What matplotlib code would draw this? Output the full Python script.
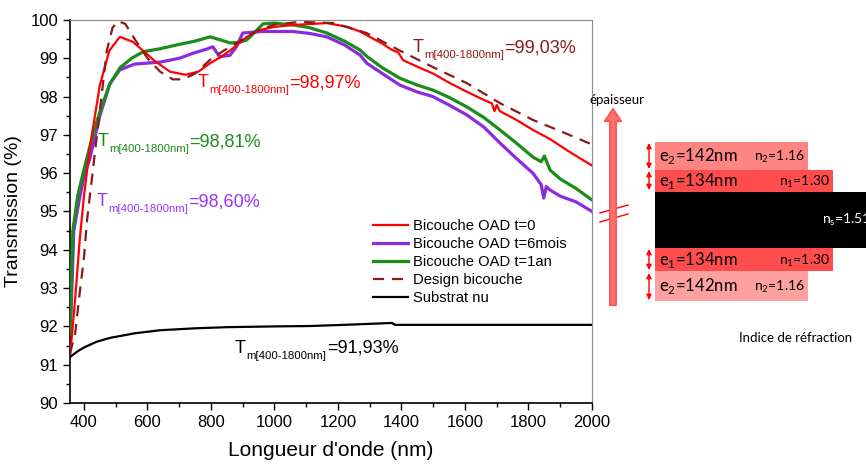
import numpy as np
import matplotlib
matplotlib.use("Agg")
import matplotlib.pyplot as plt

plt.rcParams['font.family'] = ['Liberation Sans', 'DejaVu Sans']
plt.rcParams['mathtext.fontset'] = 'custom'
plt.rcParams['mathtext.rm'] = 'Liberation Sans'

# --- transmission spectra ---
wl_t0 = [356, 372, 387, 400, 419, 450, 480, 513, 554, 586, 620, 640, 671, 720, 760, 797, 830, 860,
         913, 954, 1000, 1058, 1165, 1230, 1269, 1300, 1340, 1370, 1390, 1405, 1458, 1500, 1553,
         1600, 1650, 1685, 1693, 1700, 1710, 1760, 1814, 1870, 1921, 1960, 2000]
T_t0 = [91.2, 92.7, 94.3, 95.4, 96.7, 98.3, 99.2, 99.56, 99.43, 99.2, 98.95, 98.83, 98.65, 98.57,
        98.65, 98.87, 99.03, 99.2, 99.56, 99.74, 99.82, 99.87, 99.92, 99.82, 99.7, 99.56, 99.38,
        99.22, 99.15, 98.95, 98.75, 98.6, 98.35, 98.15, 97.95, 97.82, 97.62, 97.78, 97.62, 97.4,
        97.13, 96.88, 96.6, 96.4, 96.2]

wl_6m = [356, 362, 368, 385, 400, 419, 450, 482, 513, 560, 640, 700, 743, 790, 806, 818, 828, 860,
         880, 900, 960, 1058, 1110, 1165, 1220, 1269, 1291, 1340, 1395, 1450, 1499, 1550, 1606,
         1660, 1710, 1760, 1814, 1840, 1848, 1856, 1868, 1900, 1950, 2000]
T_6m = [91.6, 93.0, 94.5, 95.3, 95.9, 96.4, 97.5, 98.35, 98.7, 98.85, 98.9, 99.0, 99.13, 99.25,
        99.3, 99.15, 99.04, 99.08, 99.3, 99.66, 99.7, 99.7, 99.65, 99.56, 99.35, 99.09, 98.87,
        98.6, 98.3, 98.12, 98.0, 97.78, 97.52, 97.2, 96.79, 96.4, 96.0, 95.7, 95.35, 95.65, 95.56,
        95.4, 95.25, 95.0]

wl_1an = [356, 360, 365, 380, 400, 428, 450, 480, 513, 550, 586, 640, 693, 750, 797, 830, 860, 890,
          913, 940, 964, 1000, 1060, 1110, 1165, 1220, 1269, 1291, 1340, 1395, 1450, 1499, 1550,
          1606, 1660, 1710, 1760, 1814, 1840, 1850, 1868, 1900, 1950, 2000]
T_1an = [91.8, 93.2, 94.5, 95.4, 96.1, 97.0, 97.6, 98.3, 98.75, 99.0, 99.17, 99.25, 99.35, 99.45,
         99.56, 99.48, 99.4, 99.42, 99.48, 99.7, 99.9, 99.92, 99.87, 99.8, 99.66, 99.45, 99.22,
         99.05, 98.75, 98.48, 98.3, 98.17, 97.98, 97.73, 97.45, 97.13, 96.8, 96.42, 96.3, 96.45,
         96.08, 95.85, 95.6, 95.3]

wl_design = [356, 372, 387, 400, 410, 441, 472, 490, 507, 530, 560, 600, 640, 680, 711, 750, 797,
             840, 882, 940, 1000, 1080, 1186, 1290, 1395, 1499, 1606, 1710, 1814, 1900, 2000]
T_design = [91.3, 91.8, 92.9, 93.8, 94.8, 97.0, 99.2, 99.8, 99.97, 99.9, 99.5, 99.0, 98.65, 98.45,
            98.45, 98.6, 98.96, 99.2, 99.4, 99.7, 99.88, 99.95, 99.92, 99.66, 99.2, 98.77, 98.35,
            97.83, 97.39, 97.1, 96.75]

wl_sub = [356, 380, 400, 440, 482, 560, 640, 750, 850, 1000, 1112, 1250, 1370, 1380, 1600, 2000]
T_sub = [91.2, 91.35, 91.45, 91.6, 91.7, 91.82, 91.9, 91.95, 91.98, 92.0, 92.01, 92.05, 92.09,
         92.04, 92.04, 92.04]

labels = ["Bicouche OAD t=0", "Bicouche OAD t=6mois", "Bicouche OAD t=1an",
          "Design bicouche", "Substrat nu"]
Tm_values = ["99,03%", "98,97%", "98,81%", "98,60%", "91,93%"]

# --- layer stack for the schematic ---
layer_e = [142, 134, None, 134, 142]
layer_n = [1.16, 1.30, 1.51, 1.30, 1.16]
layer_idx = ["2", "1", "s", "1", "2"]

c_red = "#ff0000"
c_purple = "#8a2be2"
c_green = "#1a8c1a"
c_design = "#8b1a1a"

fig = plt.figure(figsize=(8.66, 4.67), dpi=100)
ax = fig.add_axes([70/866, 64/467, 522/866, 383/467])

ax.plot(wl_t0, T_t0, color=c_red, lw=1.6, label=labels[0], zorder=4)
ax.plot(wl_6m, T_6m, color=c_purple, lw=2.3, label=labels[1], zorder=2)
ax.plot(wl_1an, T_1an, color=c_green, lw=2.3, label=labels[2], zorder=3)
ax.plot(wl_design, T_design, color=c_design, lw=1.6, ls=(0, (5, 3.5)), label=labels[3], zorder=5)
ax.plot(wl_sub, T_sub, color="black", lw=1.6, label=labels[4], zorder=4)

ax.set_xlim(356, 2000)
ax.set_ylim(90, 100)
ax.set_xticks(np.arange(400, 2001, 200))
ax.set_xticks(np.arange(400, 2001, 100), minor=True)
ax.set_yticks(np.arange(90, 100.1, 1))
ax.set_yticks(np.arange(90, 100.1, 0.5), minor=True)
ax.tick_params(which='major', direction='out', length=5, width=1, labelsize=12)
ax.tick_params(which='minor', direction='out', length=3, width=1)
ax.tick_params(top=False, right=False)
for s in ['top', 'right']:
    ax.spines[s].set_color('#8c8c8c')
for s in ['left', 'bottom']:
    ax.spines[s].set_linewidth(1.2)

ax.set_xlabel("Longueur d'onde (nm)", fontsize=15, labelpad=8)
ax.set_ylabel("Transmission (%)", fontsize=14, labelpad=6)

leg = ax.legend(loc='upper left', bbox_to_anchor=(0.58, 0.48), frameon=False, fontsize=10.6,
                handlelength=2.4, handletextpad=0.3, labelspacing=0.27, borderpad=0,
                borderaxespad=0)

# T_m labels: "T" + subscript + "=value", laid out side by side
renderer = fig.canvas.get_renderer()


def tm_label(x, y, value, color):
    t1 = ax.text(x, y, "T", color=color, fontsize=13)
    w1 = t1.get_window_extent(renderer).width * 72 / fig.dpi
    t2 = ax.annotate("m[400-1800nm]", xy=(x, y), xytext=(w1 + 0.3, -4.2),
                     textcoords='offset points', color=color, fontsize=8.2)
    w2 = t2.get_window_extent(renderer).width * 72 / fig.dpi
    ax.annotate("=" + value, xy=(x, y), xytext=(w1 + w2 + 0.6, 0),
                textcoords='offset points', color=color, fontsize=13)


tm_label(1436, 99.16, Tm_values[0], c_design)
tm_label(759, 98.25, Tm_values[1], c_red)
tm_label(444, 96.71, Tm_values[2], c_green)
tm_label(441, 95.14, Tm_values[3], "#9933ff")
tm_label(876, 91.31, Tm_values[4], "black")

# --- schematic: layers (x scale = refractive index) ---
n0 = 0.303
dx = fig.add_axes([655/866, 166/467, 211/866, 159/467])
dx.set_xlim(n0, n0 + 211/178.6)
heights = [28, 22, 56, 23, 30]
tops = np.concatenate([[0], np.cumsum(heights)[:-1]])
centers = tops + np.array(heights) / 2
colors = ["#ff8484", "#ff4d4d", "black", "#ff4d4d", "#ffa0a0"]
dx.barh(centers, [n - n0 for n in layer_n], left=n0, height=heights, color=colors)
dx.set_ylim(sum(heights), 0)
dx.axis('off')
for i in range(5):
    if layer_e[i] is not None:
        dx.text(n0 + 0.02, centers[i], r"e$_\mathregular{%s}$=%dnm" % (layer_idx[i], layer_e[i]),
                fontsize=12, family='Lato', va='center', ha='left')
        dx.text(layer_n[i] - 0.02, centers[i] + 1, r"n$_\mathregular{%s}$=%.2f" % (layer_idx[i], layer_n[i]),
                fontsize=10, family='Lato', va='center', ha='right')
    else:
        dx.text(1.238, centers[i], r"n$_\mathregular{%s}$=%.2f" % (layer_idx[i], layer_n[i]),
                fontsize=10, family='Lato', va='center', ha='left', color='white', clip_on=True)

# --- schematic: axes arrows and decorations (figure pixels) ---
deco = fig.add_axes([0, 0, 1, 1], facecolor='none')
deco.set_xlim(0, 866)
deco.set_ylim(467, 0)
deco.axis('off')
arr_col = "#ff5050"
deco.annotate("", xy=(613, 106), xytext=(613, 308),
              arrowprops=dict(arrowstyle="simple,head_length=0.9,head_width=1.2,tail_width=0.45",
                              fc="#ff7070", ec=arr_col, lw=1.2))
deco.annotate("", xy=(868, 309), xytext=(630, 309),
              arrowprops=dict(arrowstyle="simple,head_length=0.9,head_width=1.2,tail_width=0.45",
                              fc="#ff7070", ec=arr_col, lw=1.2))
deco.text(617, 100, "épaisseur", fontsize=9.5, family='Lato', ha='center', va='center')
deco.text(796, 338, "Indice de réfraction", fontsize=9.5, family='Lato', ha='center', va='center')
deco.plot([600, 628], [213, 205], color=c_red, lw=1)
deco.plot([600, 628], [222, 214], color=c_red, lw=1)
for y0, y1 in [(143, 169), (171, 190), (249, 270), (273, 300)]:
    deco.annotate("", xy=(649, y0), xytext=(649, y1),
                  arrowprops=dict(arrowstyle="<|-|>,head_length=0.3,head_width=0.15",
                                  color=c_red, lw=1, shrinkA=0, shrinkB=0))

fig.savefig("out.png", dpi=100)
